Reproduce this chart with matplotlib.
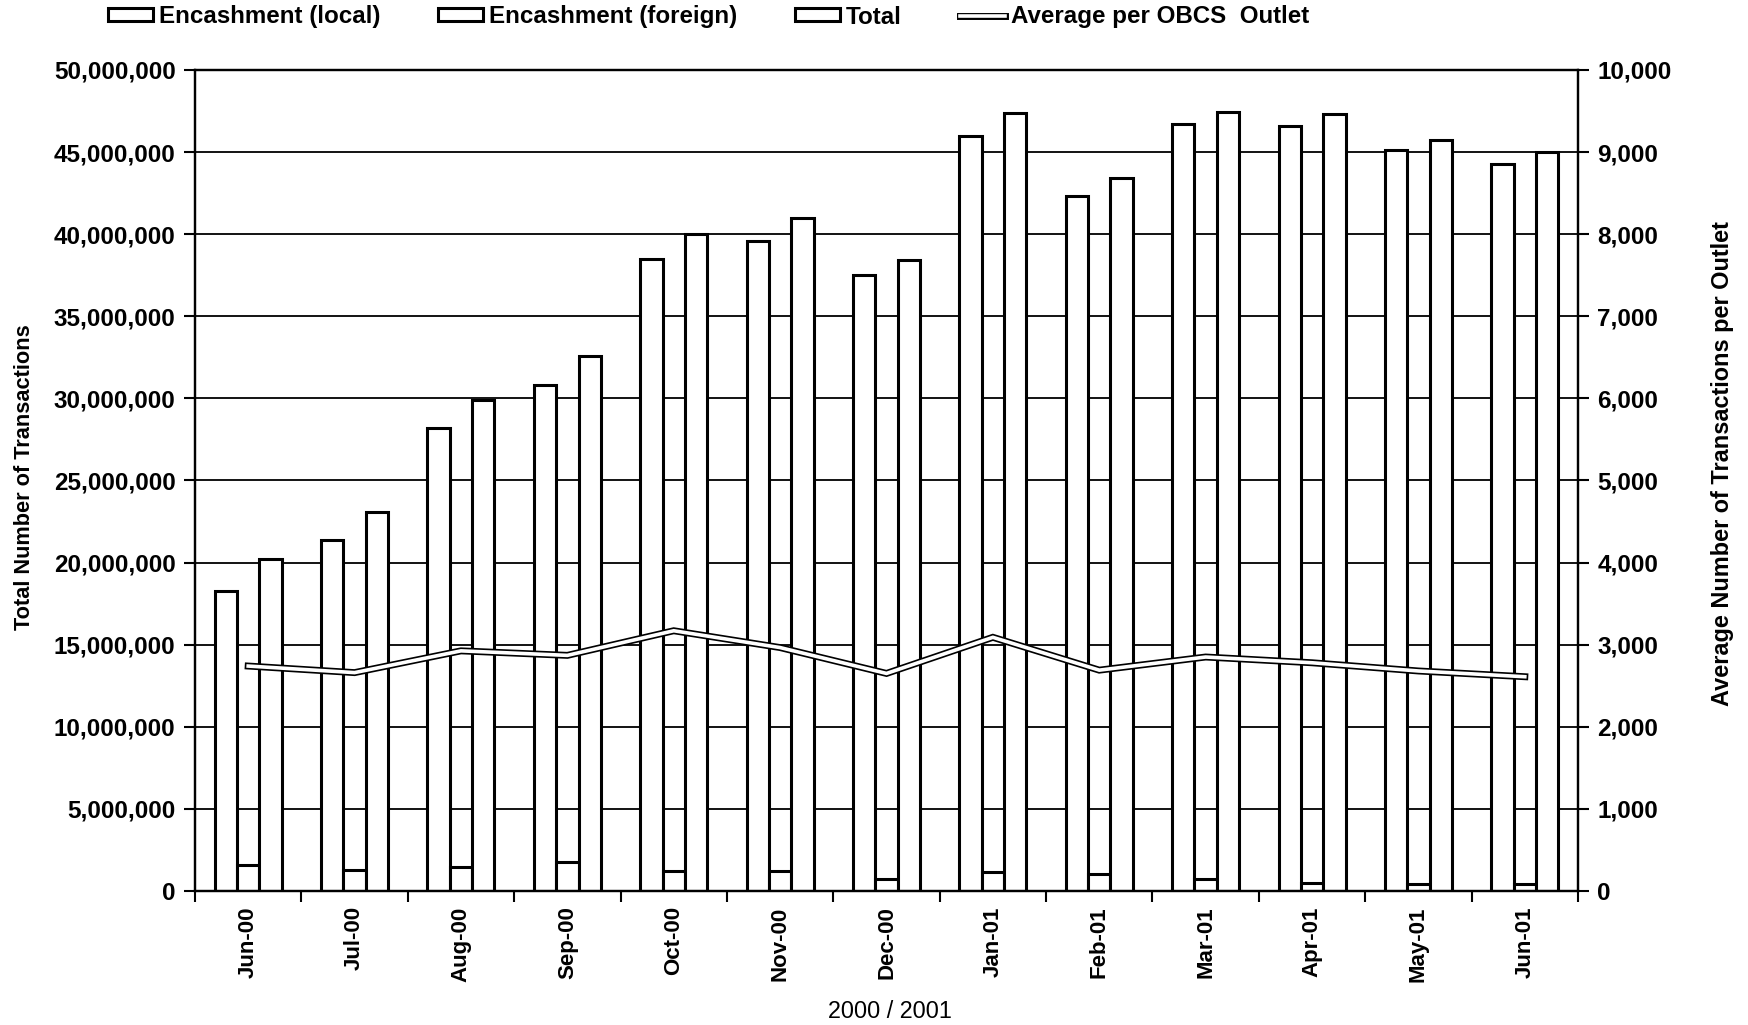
import matplotlib
matplotlib.use("Agg")
import matplotlib.pyplot as plt
import numpy as np
from matplotlib.patches import Patch
from matplotlib.lines import Line2D
import matplotlib.patheffects as pe

plt.rcParams['font.family'] = ['Liberation Sans', 'DejaVu Sans']

# ---------------- data ----------------
months = ["Jun-00", "Jul-00", "Aug-00", "Sep-00", "Oct-00", "Nov-00", "Dec-00",
          "Jan-01", "Feb-01", "Mar-01", "Apr-01", "May-01", "Jun-01"]
encash_local = [18270000, 21400000, 28200000, 30800000, 38500000, 39600000, 37500000,
                46000000, 42300000, 46700000, 46600000, 45100000, 44300000]
encash_foreign = [1580000, 1280000, 1460000, 1760000, 1200000, 1220000, 730000,
                  1130000, 1030000, 750000, 500000, 400000, 400000]
total = [20200000, 23100000, 29900000, 32600000, 40000000, 41000000, 38400000,
         47400000, 43400000, 47450000, 47300000, 45750000, 45000000]
avg_per_outlet = [2740, 2660, 2925, 2870, 3170, 2965, 2650, 3090, 2690, 2850, 2780, 2680, 2610]

left_ticks = list(range(0, 50000001, 5000000))
right_ticks = list(range(0, 10001, 1000))
legend_labels = ["Encashment (local)", "Encashment (foreign)", "Total", "Average per OBCS  Outlet"]

# ---------------- figure ----------------
W, H = 1748, 1025
fig = plt.figure(figsize=(W / 100, H / 100), dpi=100)
L, R, T, B = 195, 1578, 70, 891
ax = fig.add_axes([L / W, 1 - B / H, (R - L) / W, (B - T) / H])

x = np.arange(len(months))
w = 0.21
bar_kw = dict(color='white', edgecolor='black', linewidth=2.2, zorder=2)
ax.bar(x - w, encash_local, w, **bar_kw)
ax.bar(x, encash_foreign, w, **bar_kw)
ax.bar(x + w, total, w, **bar_kw)

ax.set_xlim(-0.5, len(months) - 0.5)
ax.set_ylim(0, 50000000)
ax.yaxis.grid(True, color='black', linewidth=1.3)
ax.set_axisbelow(True)

ax.set_yticks(left_ticks, labels=[f"{v:,}" for v in left_ticks],
              fontweight='bold', fontsize=17.5)
ax.tick_params(axis='y', length=8, width=1.5, pad=6)

ax.set_xticks(np.arange(-0.5, len(months), 1.0), labels=[])
ax.set_xticks(x, labels=months, minor=True, rotation=90,
              fontweight='bold', fontsize=16)
ax.tick_params(axis='x', which='major', length=8, width=1.5, direction='out')
ax.tick_params(axis='x', which='minor', length=0, pad=11)

for s in ax.spines.values():
    s.set_linewidth(1.6)
    s.set_color('black')

ax2 = ax.twinx()
ax2.set_ylim(0, 10000)
ax2.set_yticks(right_ticks, labels=[f"{v:,}" for v in right_ticks],
               fontweight='bold', fontsize=17.5)
ax2.tick_params(axis='y', length=8, width=1.5, pad=6)
for s in ax2.spines.values():
    s.set_linewidth(1.6)

line_fx = [pe.Stroke(linewidth=5.0, foreground='black'), pe.Normal()]
ax2.plot(x, avg_per_outlet, color='white', linewidth=2.6, path_effects=line_fx,
         solid_joinstyle='miter', zorder=3)

# ---------------- legend ----------------
handles = [Patch(facecolor='white', edgecolor='black', linewidth=2.2) for _ in range(3)]
handles.append(Line2D([], [], color='white', linewidth=2.6, path_effects=line_fx))
fig.legend(handles, legend_labels, loc='center left', bbox_to_anchor=(108 / W, 1 - 17 / H),
           ncol=4, frameon=False, prop={'weight': 'bold', 'size': 17.4},
           handlelength=1.85, handleheight=0.45, handletextpad=0.25, columnspacing=2.4,
           borderpad=0, borderaxespad=0)

# ---------------- axis titles ----------------
fig.text(25 / W, 1 - 477 / H, "Total Number of Transactions", rotation=90,
         ha='center', va='center', fontsize=15.7, fontweight='bold')
fig.text(1723 / W, 1 - 464 / H, "Average Number of Transactions per Outlet", rotation=90,
         ha='center', va='center', fontsize=16.9, fontweight='bold')
fig.text(890 / W, 1 - 1012 / H, "2000 / 2001", ha='center', va='center', fontsize=16.8)

fig.savefig("out.png", dpi=100, facecolor='white')
